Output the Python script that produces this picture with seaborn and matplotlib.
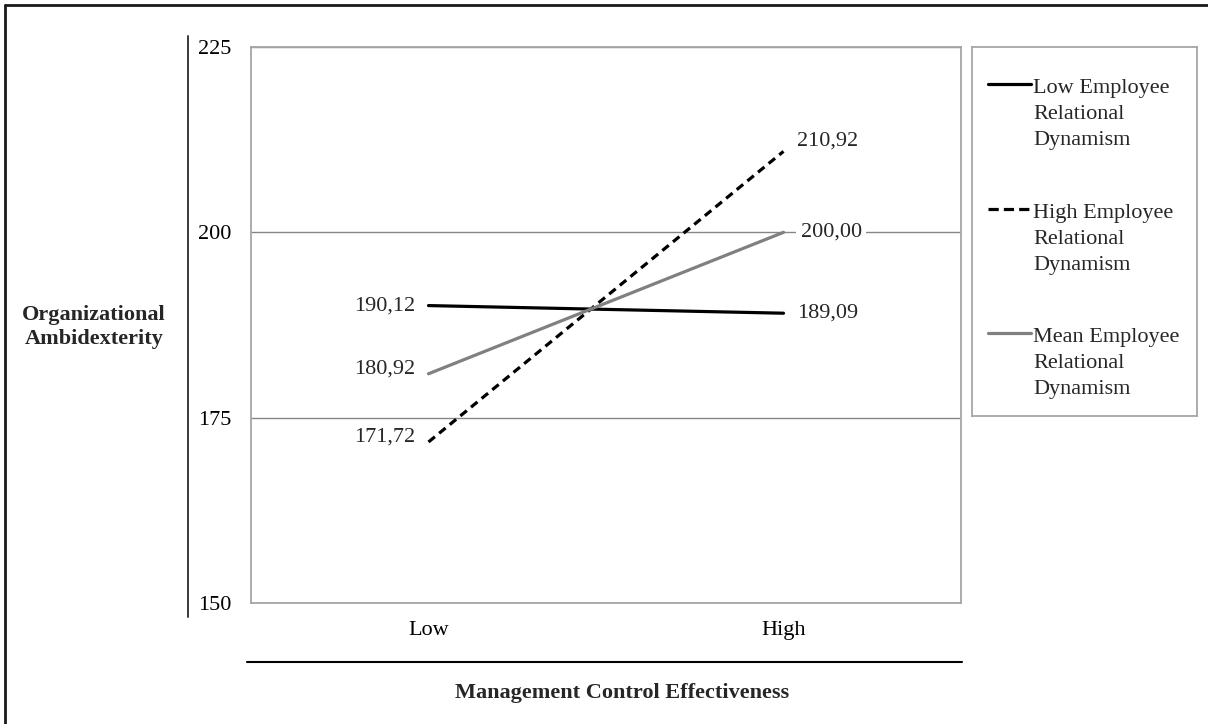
import matplotlib
matplotlib.use("Agg")
import matplotlib.pyplot as plt
import seaborn as sns
import pandas as pd
from matplotlib.lines import Line2D

# ---- data -------------------------------------------------------------
levels = ["Low", "High"]
series_names = [
    "Low Employee\nRelational\nDynamism",
    "High Employee\nRelational\nDynamism",
    "Mean Employee\nRelational\nDynamism",
]
low_erd = [190.12, 189.09]
high_erd = [171.72, 210.92]
mean_erd = [180.92, 200.00]
y_ticks = [150, 175, 200, 225]

# ---- styles -----------------------------------------------------------
colors = ["#000000", "#000000", "#808080"]
dash_styles = ["", (2.6, 1.7), ""]
# per-label vertical nudges (pixels) for the value labels: (left, right)
label_nudge = [(0, 0), (-5, 10), (-5, 0)]

sns.set_theme(style="white")
plt.rcParams["font.family"] = ["Liberation Serif", "DejaVu Serif"]
FS = 16

W, H = 1208, 724
fig = plt.figure(figsize=(W / 100, H / 100), dpi=100)


def fx(px):
    return px / W


def fy(py):
    return 1 - py / H


ax = fig.add_axes([fx(251), fy(603), fx(961) - fx(251), fy(47) - fy(603)])

values = [low_erd, high_erd, mean_erd]
df = pd.DataFrame({
    "level": [lv for _ in series_names for lv in levels],
    "value": [v for vals in values for v in vals],
    "series": [s for s in series_names for _ in levels],
})

sns.lineplot(
    data=df, x="level", y="value", hue="series", style="series",
    hue_order=series_names, style_order=series_names,
    palette=dict(zip(series_names, colors)),
    dashes=dict(zip(series_names, dash_styles)),
    linewidth=2.3, legend=False, sort=False, ax=ax,
)

ax.set_xlim(-0.5, 1.5)
ax.set_ylim(y_ticks[0], y_ticks[-1])
ax.set_xticks(range(len(levels)))
ax.set_xticklabels(levels)
ax.set_yticks(y_ticks)
ax.set_xlabel("")
ax.set_ylabel("")
ax.yaxis.grid(True, color="#868686", linewidth=1.0)
ax.xaxis.grid(False)
ax.set_axisbelow(True)
for sp in ax.spines.values():
    sp.set_color("#a6a6a6")
    sp.set_linewidth(1.3)
ax.tick_params(axis="y", length=0, pad=14.4, labelsize=FS, colors="black")
ax.tick_params(axis="x", length=0, pad=13, labelsize=FS, colors="black")

# value labels at each end of every line
for vals, nudge in zip(values, label_nudge):
    for i, v in enumerate(vals):
        txt = f"{v:.2f}".replace(".", ",")
        if i == 0:
            ax.annotate(txt, xy=(i, v), xytext=(-13, -nudge[0]),
                        textcoords="offset pixels", ha="right", va="center",
                        fontsize=FS)
        else:
            is_grid = v in y_ticks
            ax.annotate(txt, xy=(i, v), xytext=(17 if is_grid else 14, nudge[1]),
                        textcoords="offset pixels", ha="left", va="center",
                        fontsize=FS,
                        bbox=dict(boxstyle="square,pad=0.2", fc="white", ec="none")
                        if is_grid else None)

# separate value axis line on the left
fig.add_artist(Line2D([fx(188), fx(188)], [fy(36), fy(617)],
                      transform=fig.transFigure, color="#3a3a3a", linewidth=1.4))
# rule above the category title
fig.add_artist(Line2D([fx(247), fx(962)], [fy(662), fy(662)],
                      transform=fig.transFigure, color="black", linewidth=1.5))

fig.text(fx(622), fy(693), "Management Control Effectiveness",
         ha="center", va="center", fontsize=FS, fontweight="bold")
fig.text(fx(94), fy(327), "Organizational\nAmbidexterity",
         ha="center", va="center", fontsize=FS, fontweight="bold",
         multialignment="center", linespacing=1.25)

# outer frame (top and left edges)
fig.add_artist(Line2D([fx(5), fx(W + 5)], [fy(5), fy(5)],
                      transform=fig.transFigure, color="#1a1a1a", linewidth=2.0))
fig.add_artist(Line2D([fx(5), fx(5)], [fy(5), fy(H + 5)],
                      transform=fig.transFigure, color="#1a1a1a", linewidth=2.0))

# legend panel
lx0, lx1, ly0, ly1 = 972, 1197, 47, 416
lax = fig.add_axes([fx(lx0), fy(ly1), fx(lx1) - fx(lx0), fy(ly0) - fy(ly1)])
lax.set_xlim(lx0, lx1)
lax.set_ylim(ly1, ly0)
lax.set_xticks([])
lax.set_yticks([])
lax.set_facecolor("white")
for sp in lax.spines.values():
    sp.set_color("#a6a6a6")
    sp.set_linewidth(1.3)

entry_y = [84, 209, 333]
for name, c, d, yy in zip(series_names, colors, dash_styles, entry_y):
    ln = Line2D([988, 1031], [yy, yy], color=c, linewidth=2.3)
    if d:
        ln.set_dashes((3.2, 1.6))
    lax.add_line(ln)
    lax.text(1033, yy - 5, name, ha="left", va="top", fontsize=FS,
             linespacing=1.5)

fig.savefig("out.png", dpi=100)
